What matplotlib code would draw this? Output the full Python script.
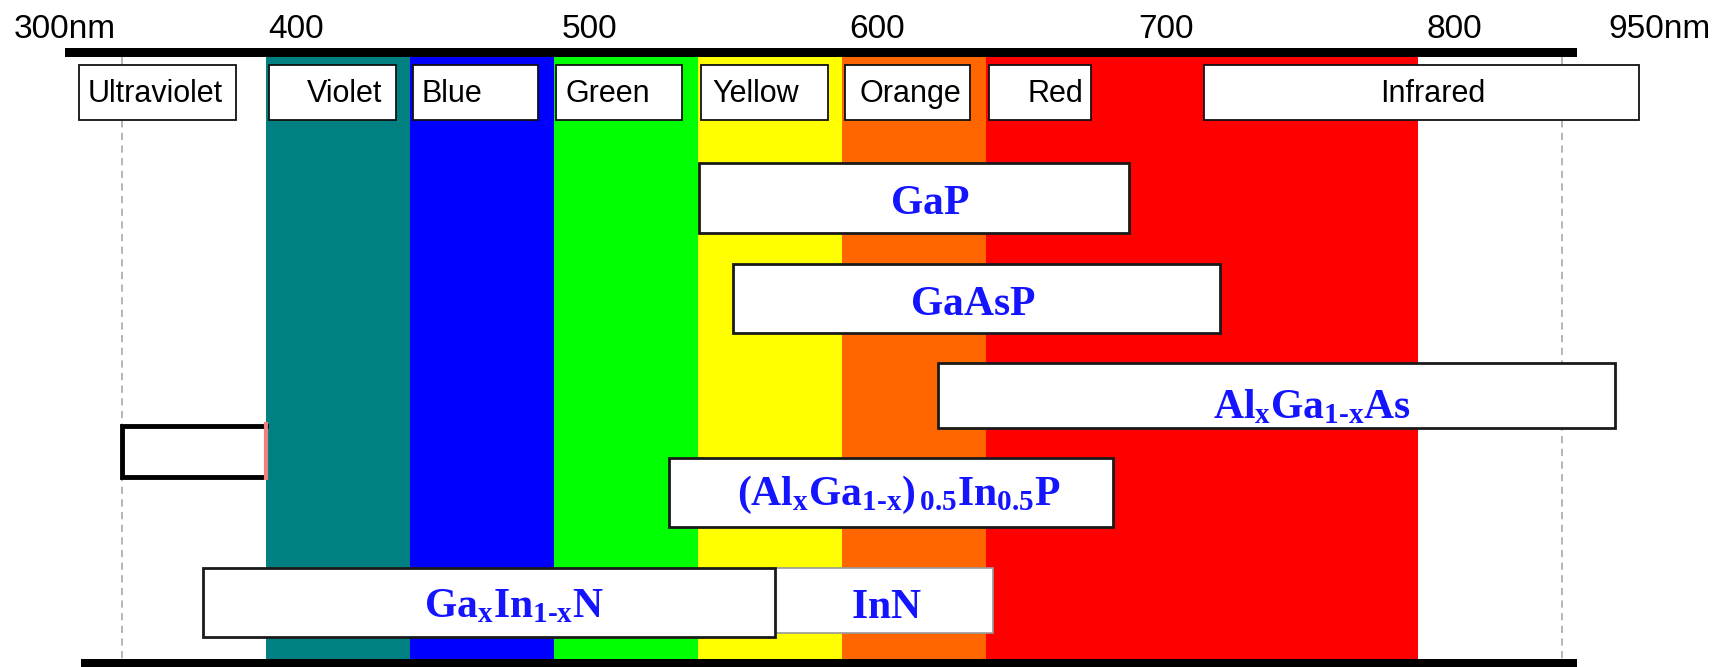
import matplotlib.pyplot as plt
from matplotlib.patches import Rectangle

plt.rcParams['mathtext.fontset'] = 'custom'
plt.rcParams['mathtext.rm'] = 'Liberation Serif:bold'
plt.rcParams['mathtext.it'] = 'Liberation Serif:bold'
plt.rcParams['mathtext.bf'] = 'Liberation Serif:bold'

# colour bands of the visible spectrum (nm)
band_start = [400, 450, 500, 550, 600, 650]
band_end = [450, 500, 550, 600, 650, 800]
band_colors = ['#008080', '#0000ff', '#00ff00', '#ffff00', '#ff6600', '#ff0000']

# header label boxes (nm)
label_names = ['Ultraviolet', 'Violet', 'Blue', 'Green', 'Yellow', 'Orange', 'Red', 'Infrared']
label_start = [335, 401, 451, 500.5, 551, 601, 651, 725.5]
label_end = [389.5, 445, 494.5, 544.5, 595, 644.5, 686.5, 876.5]
label_text_x = [361.5, 427.3, 464.3, 518.7, 570, 623.7, 674, 805]

# wavelength marks along the top
tick_text = ['300nm', '400', '500', '600', '700', '800', '950nm']
tick_x = [312.2, 400.8, 502.7, 602.3, 702.7, 802.7, 866]

# LED materials and their emission ranges (nm)
mat_names = [r'$\mathrm{GaP}$',
             r'$\mathrm{GaAsP}$',
             r'$\mathrm{Al_xGa_{1\text{-}x}As}$',
             r'$\mathrm{(Al_xGa_{1\text{-}x})_{\,0.5}In_{0.5}P}$',
             r'$\mathrm{Ga_xIn_{1\text{-}x}N}$',
             r'$\mathrm{InN}$']
mat_start = [550.4, 562.2, 633.2, 539.7, 377.9, 576.7]
mat_end = [699.6, 731.3, 868.3, 693.9, 576.7, 652.3]
mat_text_x = [630.3, 645.4, 763, 619.5, 485.9, 615.3]

# vertical layout (image rows, top = 0)
mat_top = [148, 240, 330, 416.6, 516.8, 516.8]
mat_bot = [212, 302.6, 389, 479, 579.5, 575.8]
mat_base = [194.6, 286.5, 380, 459, 561, 562]
band_top, band_bot = 51.8, 599.5

fig = plt.figure(figsize=(17.24, 6.67), dpi=100)
ax = fig.add_axes([0, 0, 1, 1])
ax.set_xlim(307.6, 906.1)
ax.set_ylim(606.6, 0)
ax.axis('off')

for s, e, c in zip(band_start, band_end, band_colors):
    ax.add_patch(Rectangle((s, band_top), e - s, band_bot - band_top, facecolor=c, edgecolor='none', zorder=1))

# dashed guides at 350 and 850
for xv in [350, 850]:
    ax.plot([xv, xv], [band_top, band_bot], color='#b0b0b0', lw=1.3, ls=(0, (4, 3)), zorder=2)

# top and bottom black bars
ax.add_patch(Rectangle((330, 43.6), 855 - 330, 8.2, facecolor='black', edgecolor='none', zorder=3))
ax.add_patch(Rectangle((335.7, band_bot), 855 - 335.7, 8, facecolor='black', edgecolor='none', zorder=3))

for t, x in zip(tick_text, tick_x):
    ax.text(x, 34.7, t, ha='left', va='baseline', fontsize=24, family='Liberation Sans', color='black')

for name, s, e, tx in zip(label_names, label_start, label_end, label_text_x):
    ax.add_patch(Rectangle((s, 59), e - s, 50, facecolor='white', edgecolor='#111111', lw=1.3, zorder=4))
    ax.text(tx, 92.6, name, ha='center', va='baseline', fontsize=22, family='Liberation Sans', color='black', zorder=5)

# empty marker box at left
ax.add_patch(Rectangle((349.8, 387), 400 - 349.8, 47, facecolor='white', edgecolor='none', zorder=4))
ax.plot([400, 349.8, 349.8, 399], [387, 387, 434, 434], color='black', lw=3.5, solid_joinstyle='miter', zorder=5)
ax.plot([400, 400], [386, 435], color='#f08080', lw=3, zorder=5)

order = [5, 4, 0, 1, 2, 3]
for i in order:
    edge = '#999999' if i == 5 else '#1a1a1a'
    lw = 1.2 if i == 5 else 2.0
    ax.add_patch(Rectangle((mat_start[i], mat_top[i]), mat_end[i] - mat_start[i], mat_bot[i] - mat_top[i],
                           facecolor='white', edgecolor=edge, lw=lw, zorder=6 if i != 5 else 5.5))
    ax.text(mat_text_x[i], mat_base[i], mat_names[i], ha='center', va='baseline', fontsize=30,
            color='#1414ff', zorder=7)

fig.savefig('out.png', dpi=100)
